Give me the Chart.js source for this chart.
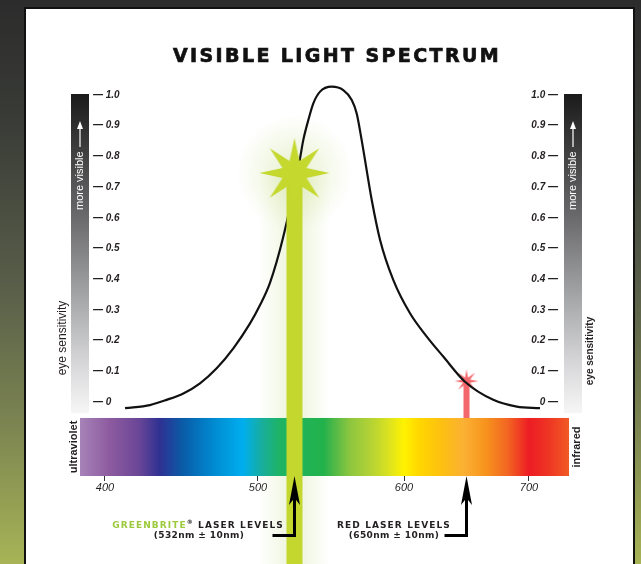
<!DOCTYPE html>
<html>
<head>
<meta charset="utf-8">
<script src="https://cdn.jsdelivr.net/npm/chart.js@4.4.1/dist/chart.umd.min.js"></script>
<style>
html,body{margin:0;padding:0;width:641px;height:564px;overflow:hidden;}
body{position:relative;background:linear-gradient(to bottom,#2c2c2c 0%,#3a3c37 22%,#585d49 50%,#7b8451 75%,#a8b456 100%);}
#panel{position:absolute;left:24px;top:7px;width:607px;height:640px;background:#fff;border:2px solid #111;}
#wrap{position:absolute;left:0;top:0;width:641px;height:564px;}
</style>
</head>
<body>
<div id="panel"></div>
<div id="wrap"><canvas id="c" width="641" height="564"></canvas></div>
<script>
// ---------------- data ----------------
const wavelengthsNm = [413.1, 429.4, 440.3, 451.2, 462.1, 473.0, 483.9, 494.8, 501.4, 508.2, 517.1, 528.8, 531.0, 534.5, 537.9, 542.5, 550.5, 558.4, 564.2, 567.6, 571.0, 577.9, 583.6, 592.7, 604.8, 618.2, 631.4, 648.8, 671.4, 690.2, 708.8];
const eyeSensitivity = [-0.020, -0.010, 0.007, 0.028, 0.061, 0.110, 0.175, 0.256, 0.316, 0.388, 0.534, 0.794, 0.853, 0.919, 0.973, 1.011, 1.027, 1.016, 0.984, 0.940, 0.853, 0.658, 0.528, 0.397, 0.289, 0.213, 0.148, 0.066, 0.007, -0.015, -0.020];

const xTickValues = [400, 500, 600, 700];
const xTickLabels = ['400', '500', '600', '700'];
const yTickValues = [0, 0.1, 0.2, 0.3, 0.4, 0.5, 0.6, 0.7, 0.8, 0.9, 1.0];
const yTickLabels = ['0', '0.1', '0.2', '0.3', '0.4', '0.5', '0.6', '0.7', '0.8', '0.9', '1.0'];

const greenLaserNm = 525;      // beam position as drawn
const greenStarLevel = 0.746;
const redLaserNm = 650;
const redStarLevel = 0.068;

const spectrumNm = [383.7, 403, 422, 436, 451, 470, 490, 503, 515, 545, 549, 563, 577, 590, 600, 612, 630, 648, 665, 683, 700, 715, 732];
const spectrumColors = ['#a783b8', '#8d5b9f', '#6b4697', '#2e3192', '#0a5ca8', '#0088cf', '#00aeef', '#18ae9c', '#1eb464', '#22b24c', '#3cb54a', '#8dc63f', '#b3d235', '#dde31f', '#fff200', '#ffd700', '#fdc010', '#fbb034', '#f7941d', '#f26522', '#ed1c24', '#ee3424', '#f15a24'];

// axis calibration of the printed (non-uniform) wavelength axis
const axisKnotsNm = [383.7, 400, 500, 600, 700, 732];
const axisKnotsFrac = [0, 0.0511, 0.3640, 0.6626, 0.9182, 1];

const yMin = -0.241, yMax = 1.1;
const spectrumTopLevel = -0.052;
const pageBottomLevel = -0.53;
const grayBarBottomLevel = -0.036;

// ---------------- custom wavelength scale ----------------
function interp(v, xs, ys) {
  let i = 0;
  if (v <= xs[0]) i = 0;
  else if (v >= xs[xs.length - 1]) i = xs.length - 2;
  else { while (v > xs[i + 1]) i++; }
  const t = (v - xs[i]) / (xs[i + 1] - xs[i]);
  return ys[i] + t * (ys[i + 1] - ys[i]);
}
class SpectralScale extends Chart.LinearScale {
  getPixelForValue(value) {
    if (value === null || value === undefined || Number.isNaN(+value)) return NaN;
    return this.getPixelForDecimal(interp(+value, axisKnotsNm, axisKnotsFrac));
  }
  getValueForPixel(pixel) {
    return interp(this.getDecimalForPixel(pixel), axisKnotsFrac, axisKnotsNm);
  }
}
SpectralScale.id = 'spectral';
SpectralScale.defaults = Chart.LinearScale.defaults;
Chart.register(SpectralScale);

// ---------------- star point styles ----------------
function makeStar(outer, inner, points, color) {
  const s = Math.ceil(outer * 2 + 2);
  const c = document.createElement('canvas');
  c.width = s; c.height = s;
  const g = c.getContext('2d');
  g.translate(s / 2, s / 2);
  g.beginPath();
  for (let i = 0; i < points * 2; i++) {
    const r = i % 2 === 0 ? outer : inner;
    const a = -Math.PI / 2 + i * Math.PI / points;
    g.lineTo(r * Math.cos(a), r * Math.sin(a));
  }
  g.closePath();
  g.fillStyle = color;
  g.fill();
  return c;
}
const greenStar = makeStar(35, 13, 8, '#c4d82e');
const redStar = makeStar(12, 3.8, 8, '#f2676c');

const INK = '#231f20';

function rotText(ctx, text, x, y, font, color, align) {
  ctx.save();
  ctx.translate(x, y);
  ctx.rotate(-Math.PI / 2);
  ctx.font = font;
  ctx.fillStyle = color;
  ctx.textAlign = align || 'center';
  ctx.textBaseline = 'middle';
  ctx.fillText(text, 0, 0);
  ctx.restore();
}

const decor = {
  id: 'decor',
  beforeDraw(chart) {
    const ctx = chart.ctx;
    const ys = chart.scales.y;
    ctx.save();
    // eye sensitivity gray bars
    const gTop = ys.getPixelForValue(1.0) - 1, gBot = ys.getPixelForValue(grayBarBottomLevel);
    [[71, 18], [564, 18]].forEach(([bx, bw]) => {
      const gr = ctx.createLinearGradient(0, gTop, 0, gBot);
      gr.addColorStop(0, '#1b1b1b');
      gr.addColorStop(0.15, '#39393a');
      gr.addColorStop(0.4, '#6d6d6f');
      gr.addColorStop(0.65, '#a8a9ab');
      gr.addColorStop(0.85, '#d8d8da');
      gr.addColorStop(1, '#f6f6f6');
      ctx.fillStyle = gr;
      ctx.fillRect(bx, gTop, bw, gBot - gTop);
      const cx = bx + bw / 2;
      rotText(ctx, 'more visible', cx, 210, '11px "Liberation Sans"', '#fff', 'left');
      ctx.strokeStyle = '#fff';
      ctx.lineWidth = 1.2;
      ctx.beginPath(); ctx.moveTo(cx, 147); ctx.lineTo(cx, 127); ctx.stroke();
      ctx.fillStyle = '#fff';
      ctx.beginPath(); ctx.moveTo(cx, 121); ctx.lineTo(cx - 3, 129); ctx.lineTo(cx + 3, 129); ctx.closePath(); ctx.fill();
    });
    rotText(ctx, 'eye sensitivity', 63, 338, '12px "Liberation Sans"', INK);
    rotText(ctx, 'eye sensitivity', 590, 351, 'bold 10px "Liberation Sans"', INK);
    ctx.restore();
  },
  beforeDatasetsDraw(chart) {
    const ctx = chart.ctx;
    const xs = chart.scales.x, ys = chart.scales.y;
    ctx.save();
    // title
    ctx.font = 'bold 19px "DejaVu Sans"';
    ctx.letterSpacing = '2.4px';
    ctx.fillStyle = '#111';
    ctx.strokeStyle = '#111';
    ctx.lineWidth = 0.7;
    ctx.textAlign = 'center';
    ctx.textBaseline = 'alphabetic';
    ctx.fillText('VISIBLE LIGHT SPECTRUM', 337, 62);
    ctx.strokeText('VISIBLE LIGHT SPECTRUM', 337, 62);
    ctx.letterSpacing = '0px';

    // green glow
    const gx = xs.getPixelForValue(greenLaserNm);
    const sy = ys.getPixelForValue(greenStarLevel);
    const hg = ctx.createLinearGradient(gx - 36, 0, gx + 36, 0);
    hg.addColorStop(0, 'rgba(190,215,120,0)');
    hg.addColorStop(0.35, 'rgba(190,215,120,0.2)');
    hg.addColorStop(0.5, 'rgba(190,215,120,0.3)');
    hg.addColorStop(0.65, 'rgba(190,215,120,0.2)');
    hg.addColorStop(1, 'rgba(190,215,120,0)');
    ctx.fillStyle = hg;
    ctx.fillRect(gx - 36, sy, 72, chart.height - sy);
    const rg = ctx.createRadialGradient(gx, sy, 10, gx, sy, 58);
    rg.addColorStop(0, 'rgba(190,215,120,0.3)');
    rg.addColorStop(1, 'rgba(190,215,120,0)');
    ctx.fillStyle = rg;
    ctx.beginPath(); ctx.arc(gx, sy, 58, 0, Math.PI * 2); ctx.fill();

    // spectrum bar
    const x0 = xs.getPixelForValue(spectrumNm[0]);
    const x1 = xs.getPixelForValue(spectrumNm[spectrumNm.length - 1]);
    const yT = ys.getPixelForValue(spectrumTopLevel), yB = ys.getPixelForValue(yMin);
    const sg = ctx.createLinearGradient(x0, 0, x1, 0);
    spectrumNm.forEach((nm, i) => {
      sg.addColorStop((xs.getPixelForValue(nm) - x0) / (x1 - x0), spectrumColors[i]);
    });
    ctx.fillStyle = sg;
    ctx.fillRect(x0, yT, x1 - x0, yB - yT);
    rotText(ctx, 'ultraviolet', 74, (yT + yB) / 2, 'bold 11px "Liberation Sans"', INK);
    rotText(ctx, 'infrared', 577, (yT + yB) / 2, 'bold 11px "Liberation Sans"', INK);
    ctx.restore();
  },
  afterDatasetsDraw(chart) {
    const ctx = chart.ctx;
    const xs = chart.scales.x;
    const yB = chart.chartArea.bottom;
    ctx.save();
    const arrow = (px, leftEnd) => {
      ctx.strokeStyle = '#000';
      ctx.fillStyle = '#000';
      ctx.lineWidth = 3;
      ctx.lineJoin = 'miter';
      ctx.beginPath();
      ctx.moveTo(px, yB + 20);
      ctx.lineTo(px, 535.5);
      ctx.lineTo(leftEnd, 535.5);
      ctx.stroke();
      ctx.beginPath();
      ctx.moveTo(px, yB);
      ctx.lineTo(px + 5.5, yB + 29);
      ctx.lineTo(px, yB + 22);
      ctx.lineTo(px - 5.5, yB + 29);
      ctx.closePath();
      ctx.fill();
    };
    const gx = xs.getPixelForValue(greenLaserNm);
    const rx = xs.getPixelForValue(redLaserNm);
    arrow(gx, gx - 22);
    arrow(rx, rx - 22);

    // captions
    ctx.textBaseline = 'middle';
    ctx.font = 'bold 9px "DejaVu Sans"';
    ctx.letterSpacing = '1.1px';
    const l1a = 'GREENBRITE', l1b = '®', l1c = ' LASER LEVELS';
    const wa = ctx.measureText(l1a).width;
    const wc = ctx.measureText(l1c).width;
    ctx.font = 'bold 6px "DejaVu Sans"';
    const wb = ctx.measureText(l1b).width;
    let startX = 198 - (wa + wb + wc) / 2;
    ctx.textAlign = 'left';
    ctx.font = 'bold 9px "DejaVu Sans"';
    ctx.fillStyle = '#9cca3c';
    ctx.fillText(l1a, startX, 526);
    ctx.font = 'bold 6px "DejaVu Sans"';
    ctx.fillStyle = INK;
    ctx.fillText(l1b, startX + wa, 522);
    ctx.font = 'bold 9px "DejaVu Sans"';
    ctx.fillText(l1c, startX + wa + wb, 526);
    ctx.textAlign = 'center';
    ctx.fillText('RED LASER LEVELS', 394, 526);
    ctx.letterSpacing = '0.4px';
    ctx.fillText('(532nm \u00b1 10nm)', 199, 536);
    ctx.fillText('(650nm \u00b1 10nm)', 394, 536);
    ctx.letterSpacing = '0px';
    ctx.restore();
  }
};

const yTickFont = { family: '"Liberation Sans"', size: 10, style: 'italic', weight: 'bold' };

new Chart(document.getElementById('c'), {
  type: 'line',
  data: {
    datasets: [
      {
        label: 'Greenbrite laser',
        data: [{ x: greenLaserNm, y: greenStarLevel }, { x: greenLaserNm, y: pageBottomLevel }],
        borderColor: '#c3d72f',
        borderWidth: 16,
        pointStyle: greenStar,
        pointRadius: [10, 0],
        pointHoverRadius: [10, 0],
        clip: false,
        order: 0
      },
      {
        label: 'Eye sensitivity',
        data: wavelengthsNm.map((nm, i) => ({ x: nm, y: eyeSensitivity[i] })),
        borderColor: '#111',
        borderWidth: 2.2,
        pointRadius: 0,
        cubicInterpolationMode: 'monotone',
        clip: false,
        order: 1
      },
      {
        label: 'Red laser',
        data: [{ x: redLaserNm, y: redStarLevel }, { x: redLaserNm, y: spectrumTopLevel }],
        borderColor: '#f3686d',
        borderWidth: 6,
        pointStyle: redStar,
        pointRadius: [6, 0],
        pointHoverRadius: [6, 0],
        clip: false,
        order: 2
      }
    ]
  },
  options: {
    responsive: false,
    animation: false,
    events: [],
    layout: { padding: { left: 80, right: 72, top: 64.3, bottom: 68 } },
    plugins: { legend: { display: false }, tooltip: { enabled: false } },
    scales: {
      x: {
        type: 'spectral',
        min: axisKnotsNm[0],
        max: axisKnotsNm[axisKnotsNm.length - 1],
        bounds: 'data',
        afterBuildTicks: (s) => { s.ticks = xTickValues.map(v => ({ value: v })); },
        afterFit: (s) => { s.height = 20; },
        grid: { drawOnChartArea: false, drawTicks: true, tickLength: 5, color: '#333', lineWidth: 1 },
        border: { display: false },
        ticks: {
          autoSkip: false, maxRotation: 0, padding: 0, color: INK,
          font: { family: '"Liberation Sans"', size: 11, style: 'italic' },
          callback: (v, i) => xTickLabels[i]
        }
      },
      y: {
        type: 'linear', position: 'left', min: yMin, max: yMax,
        afterBuildTicks: (s) => { s.ticks = yTickValues.map(v => ({ value: v })); },
        afterFit: (s) => { s.width = 0; },
        grid: { display: false, drawTicks: false },
        border: { display: false },
        ticks: { mirror: true, padding: 13, color: INK, font: yTickFont, callback: (v, i) => '\u2014 ' + yTickLabels[i] }
      },
      y2: {
        type: 'linear', position: 'right', min: yMin, max: yMax,
        afterBuildTicks: (s) => { s.ticks = yTickValues.map(v => ({ value: v })); },
        afterFit: (s) => { s.width = 0; },
        grid: { display: false, drawTicks: false },
        border: { display: false },
        ticks: { mirror: true, padding: -11, color: INK, font: yTickFont, callback: (v, i) => yTickLabels[i] + ' \u2014' }
      }
    }
  },
  plugins: [decor]
});
</script>
</body>
</html>
